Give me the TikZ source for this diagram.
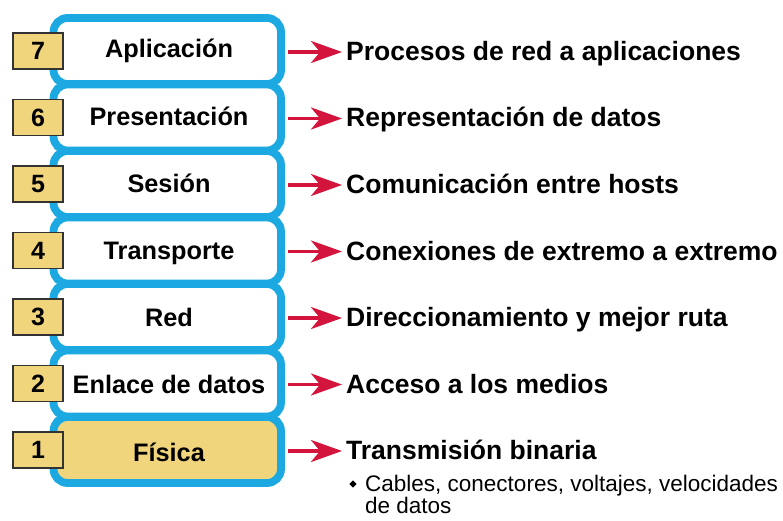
\documentclass[tikz,border=0pt]{standalone}
\usepackage{fontspec}
\setmainfont{Liberation Sans}
\usetikzlibrary{arrows.meta}
\definecolor{osiblue}{HTML}{1CA8E0}
\definecolor{osiyellow}{HTML}{F0D57C}
\definecolor{osired}{HTML}{D3143C}
\begin{document}
\begin{tikzpicture}[x=1pt,y=-1pt,
  layerbox/.style={draw=osiblue, line width=7.8pt, rounded corners=14pt, fill=white},
  numbox/.style={draw=black!80, line width=1.5pt, fill=osiyellow, minimum width=50pt,
    minimum height=36pt, inner sep=0pt, font=\fontsize{25}{25}\selectfont\bfseries},
  lbl/.style={anchor=base, inner sep=0pt, font=\fontsize{25.3}{25}\selectfont\bfseries},
  desc/.style={anchor=base west, inner sep=0pt, font=\fontsize{26.5}{26.5}\selectfont\bfseries},
  subdesc/.style={anchor=base west, inner sep=0pt, font=\fontsize{22.5}{22.5}\selectfont},
  arr/.style={draw=osired, line width=3.5pt, -{Stealth[length=31pt,width=22pt,inset=9pt]}},
  bulletmark/.style={fill=black, rectangle, rotate=45, minimum size=5pt, inner sep=0pt}
]
\useasboundingbox (0,0) rectangle (783,521);
\foreach \n/\lab/\dsc [count=\k from 0] in {
  7/Aplicación/Procesos de red a aplicaciones,
  6/Presentación/Representación de datos,
  5/Sesión/Comunicación entre hosts,
  4/Transporte/Conexiones de extremo a extremo,
  3/Red/Direccionamiento y mejor ruta,
  2/Enlace de datos/Acceso a los medios,
  1/Física/Transmisión binaria}{
  \pgfmathsetmacro{\c}{51+66.5*\k}
  \pgfmathsetmacro{\lb}{\c+7+0.67*\k}
  \ifnum\n=1
    \draw[layerbox, fill=osiyellow] (53.5,\c-33) rectangle (281,\c+33);
  \else
    \draw[layerbox] (53.5,\c-33) rectangle (281,\c+33);
  \fi
  \node[lbl] (lab\n) at (169,\lb) {\lab};
  \node[numbox] (num\n) at (38,\c) {\n};
  \coordinate (from\n) at (288,\c+1);
  \node[desc] (desc\n) at (346,\c+9.5) {\dsc};
  \draw[arr] (from\n) -- ([xshift=-4pt]desc\n.base west |- from\n);
}
\node[bulletmark] (bul) at (353,484) {};
\node[subdesc] (sub1) at (365,491) {Cables, conectores, voltajes, velocidades};
\node[subdesc] (sub2) at (365,513) {de datos};
\end{tikzpicture}
\end{document}
